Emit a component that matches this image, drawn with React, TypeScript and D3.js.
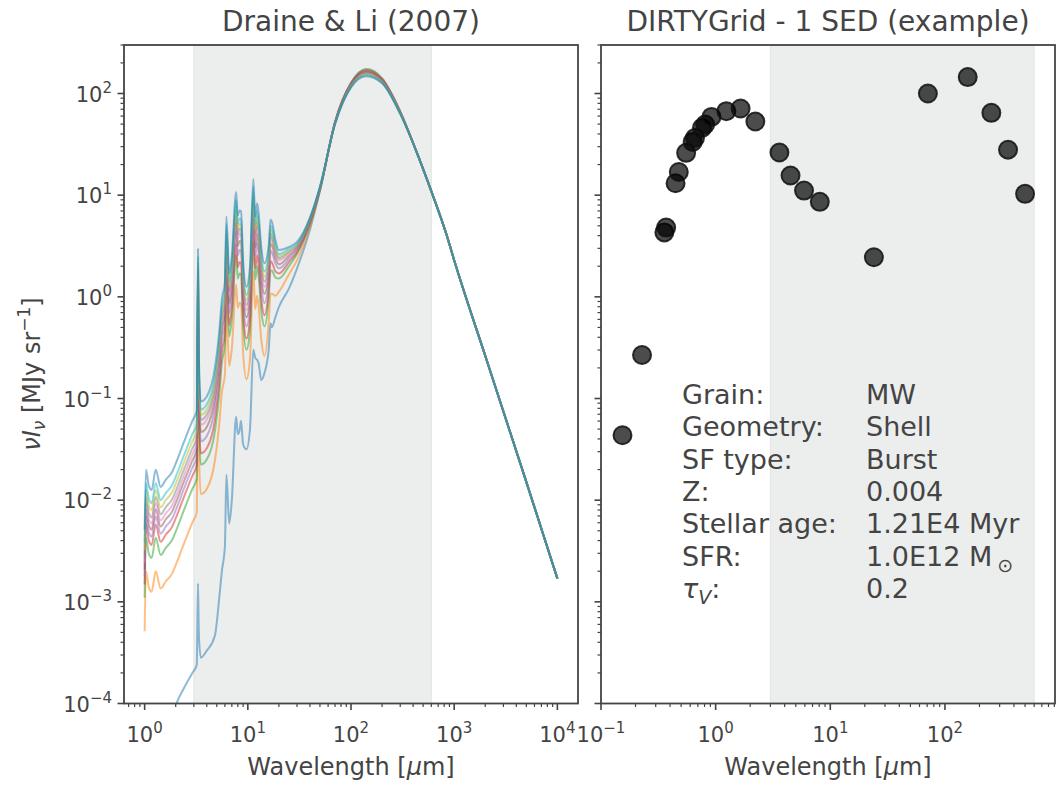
import React, { useEffect, useRef } from "react";
import * as d3 from "d3";

// Draine & Li (2007) model SEDs, log10(nu I_nu) on a shared wavelength grid (micron)
const wavelengthGrid = [
  1.0, 1.03, 1.1, 1.17, 1.28, 1.43, 1.6, 1.85, 2.0, 2.4, 2.9, 3.2,
  3.29, 3.35, 3.5, 4.0, 4.8, 5.3, 5.6, 6.0, 6.2, 6.6, 7.0, 7.7, 8.0, 8.3, 8.6, 9.0, 9.7, 10.5, 11.3, 11.8, 12.3, 12.7, 13.5, 14.5,
  16.0, 16.6, 17.1, 18.5, 20, 25, 30, 40, 50,
  70, 100, 140, 200, 300, 450, 600, 850, 1000, 2000, 5000, 10000,
];

const sedLog0 = [
  -4.9, -4.8, -4.75, -4.7, -4.6, -4.5, -4.35, -4.13, -4.02, -3.85, -3.7, -3.62,
  -2.82, -3.3, -3.55, -3.48, -3.33, -2.95, -2.7, -2.45, -1.75, -2.23, -2.0, -1.18, -1.35, -1.32, -1.22, -1.45, -1.5, -1.3, -0.52, -0.6, -0.62, -0.65, -0.82, -0.75,
  -0.5, -0.26, -0.3, -0.2, -0.1, 0.08, 0.28, 0.66, 1.04,
  1.72, 2.105, 2.24, 2.15, 1.825, 1.38, 1.04, 0.6, 0.36, -0.58, -1.82, -2.77,
];
const sedLog1 = [
  -3.29, -2.7, -2.86, -2.9, -2.7, -2.87, -2.8, -2.72, -2.64, -2.43, -2.22, -2.12,
  -0.44, -1.46, -1.94, -1.89, -1.61, -1.24, -0.94, -0.76, -0.12, -0.68, -0.51, 0.12, -0.11, -0.06, -0.07, -0.55, -0.81, -0.61, 0.25, -0.12, 0.01, -0.08, -0.42, -0.58,
  -0.23, 0.03, 0.03, 0.01, 0.05, 0.22, 0.36, 0.69, 1.05,
  1.72, 2.1, 2.235, 2.145, 1.82, 1.38, 1.04, 0.6, 0.36, -0.58, -1.82, -2.77,
];
const sedLog2 = [
  -2.96, -2.37, -2.53, -2.57, -2.37, -2.54, -2.47, -2.39, -2.31, -2.1, -1.89, -1.79,
  -0.15, -1.17, -1.65, -1.6, -1.32, -0.95, -0.65, -0.47, 0.17, -0.39, -0.22, 0.41, 0.18, 0.23, 0.22, -0.26, -0.52, -0.32, 0.54, 0.17, 0.3, 0.21, -0.13, -0.29,
  0.01, 0.26, 0.26, 0.19, 0.18, 0.3, 0.42, 0.72, 1.05,
  1.715, 2.1, 2.23, 2.14, 1.82, 1.38, 1.04, 0.6, 0.36, -0.58, -1.82, -2.77,
];
const sedLog3 = [
  -2.83, -2.24, -2.4, -2.44, -2.24, -2.41, -2.34, -2.26, -2.18, -1.97, -1.76, -1.66,
  -0.04, -1.06, -1.54, -1.49, -1.21, -0.84, -0.54, -0.36, 0.28, -0.28, -0.11, 0.52, 0.29, 0.34, 0.33, -0.15, -0.41, -0.21, 0.65, 0.28, 0.41, 0.32, -0.02, -0.18,
  0.1, 0.35, 0.34, 0.25, 0.23, 0.34, 0.44, 0.73, 1.06,
  1.715, 2.095, 2.22, 2.135, 1.815, 1.38, 1.04, 0.6, 0.36, -0.58, -1.82, -2.77,
];
const sedLog4 = [
  -2.75, -2.16, -2.32, -2.36, -2.16, -2.33, -2.26, -2.18, -2.1, -1.89, -1.68, -1.58,
  0.08, -0.94, -1.42, -1.37, -1.09, -0.72, -0.42, -0.24, 0.4, -0.16, 0.01, 0.64, 0.41, 0.46, 0.45, -0.03, -0.29, -0.09, 0.77, 0.4, 0.53, 0.44, 0.1, -0.06,
  0.2, 0.45, 0.44, 0.33, 0.28, 0.37, 0.46, 0.74, 1.06,
  1.71, 2.09, 2.215, 2.13, 1.815, 1.38, 1.04, 0.6, 0.36, -0.58, -1.82, -2.77,
];
const sedLog5 = [
  -2.68, -2.09, -2.25, -2.29, -2.09, -2.26, -2.19, -2.11, -2.03, -1.82, -1.61, -1.51,
  0.17, -0.85, -1.33, -1.28, -1.0, -0.63, -0.33, -0.15, 0.49, -0.07, 0.1, 0.73, 0.5, 0.55, 0.54, 0.06, -0.2, 0.0, 0.86, 0.49, 0.62, 0.53, 0.19, 0.03,
  0.27, 0.52, 0.51, 0.38, 0.32, 0.4, 0.48, 0.75, 1.07,
  1.71, 2.085, 2.21, 2.125, 1.81, 1.38, 1.04, 0.6, 0.36, -0.58, -1.82, -2.77,
];
const sedLog6 = [
  -2.62, -2.03, -2.19, -2.23, -2.03, -2.2, -2.13, -2.05, -1.97, -1.76, -1.55, -1.45,
  0.24, -0.78, -1.26, -1.21, -0.93, -0.56, -0.26, -0.08, 0.56, 0.0, 0.17, 0.8, 0.57, 0.62, 0.61, 0.13, -0.13, 0.07, 0.93, 0.56, 0.69, 0.6, 0.26, 0.1,
  0.33, 0.58, 0.56, 0.42, 0.36, 0.42, 0.49, 0.76, 1.07,
  1.705, 2.08, 2.2, 2.12, 1.81, 1.38, 1.04, 0.6, 0.36, -0.58, -1.82, -2.77,
];
const sedLog7 = [
  -2.56, -1.97, -2.13, -2.17, -1.97, -2.14, -2.07, -1.99, -1.91, -1.7, -1.49, -1.39,
  0.29, -0.73, -1.21, -1.16, -0.88, -0.51, -0.21, -0.03, 0.61, 0.05, 0.22, 0.85, 0.62, 0.67, 0.66, 0.18, -0.08, 0.12, 0.98, 0.61, 0.74, 0.65, 0.31, 0.15,
  0.37, 0.62, 0.6, 0.45, 0.38, 0.44, 0.5, 0.76, 1.07,
  1.705, 2.075, 2.195, 2.115, 1.805, 1.38, 1.04, 0.6, 0.36, -0.58, -1.82, -2.77,
];
const sedLog8 = [
  -2.49, -1.9, -2.06, -2.1, -1.9, -2.07, -2.0, -1.92, -1.84, -1.63, -1.42, -1.32,
  0.34, -0.68, -1.16, -1.11, -0.83, -0.46, -0.16, 0.02, 0.66, 0.1, 0.27, 0.9, 0.67, 0.72, 0.71, 0.23, -0.03, 0.17, 1.03, 0.66, 0.79, 0.7, 0.36, 0.2,
  0.41, 0.66, 0.64, 0.48, 0.4, 0.45, 0.51, 0.77, 1.08,
  1.7, 2.07, 2.19, 2.11, 1.805, 1.38, 1.04, 0.6, 0.36, -0.58, -1.82, -2.77,
];
const sedLog9 = [
  -2.42, -1.83, -1.99, -2.03, -1.83, -2.0, -1.93, -1.85, -1.77, -1.56, -1.35, -1.25,
  0.39, -0.63, -1.11, -1.06, -0.78, -0.41, -0.11, 0.07, 0.71, 0.15, 0.32, 0.95, 0.72, 0.77, 0.76, 0.28, 0.02, 0.22, 1.08, 0.71, 0.84, 0.75, 0.41, 0.25,
  0.45, 0.7, 0.68, 0.51, 0.42, 0.47, 0.52, 0.77, 1.08,
  1.7, 2.065, 2.18, 2.105, 1.8, 1.38, 1.04, 0.6, 0.36, -0.58, -1.82, -2.77,
];
const sedLog10 = [
  -2.29, -1.7, -1.86, -1.9, -1.7, -1.87, -1.8, -1.72, -1.64, -1.43, -1.22, -1.12,
  0.47, -0.55, -1.03, -0.98, -0.7, -0.33, -0.03, 0.15, 0.79, 0.23, 0.4, 1.03, 0.8, 0.85, 0.84, 0.36, 0.1, 0.3, 1.16, 0.79, 0.92, 0.83, 0.49, 0.33,
  0.52, 0.76, 0.74, 0.56, 0.46, 0.49, 0.54, 0.78, 1.08,
  1.7, 2.06, 2.17, 2.1, 1.8, 1.38, 1.04, 0.6, 0.36, -0.58, -1.82, -2.77,
];
const modelSeds = [sedLog0, sedLog1, sedLog2, sedLog3, sedLog4, sedLog5, sedLog6, sedLog7, sedLog8, sedLog9, sedLog10];
const modelColors = ["#1f77b4", "#ff7f0e", "#2ca02c", "#d62728", "#9467bd", "#8c564b", "#e377c2", "#7f7f7f", "#bcbd22", "#17becf", "#1f77b4"];

// DIRTYGrid single SED photometry
const dirtyWave = [0.154, 0.228, 0.357, 0.37, 0.447, 0.477, 0.553, 0.63, 0.66, 0.76, 0.81, 0.92, 1.24, 1.65, 2.22, 3.6, 4.5, 5.9, 8.1, 24, 71, 158, 254, 355, 500];
const dirtyFlux = [0.0435, 0.268, 4.3, 4.8, 13.1, 16.9, 26.1, 33.4, 36.6, 45.9, 49.6, 58.9, 67, 71.2, 53, 26.3, 15.6, 11.1, 8.6, 2.45, 100, 145, 64.5, 28, 10.3];

const paramNames = ["Grain:", "Geometry:", "SF type:", "Z:", "Stellar age:", "SFR:", "τ_V:"];
const paramValues = ["MW", "Shell", "Burst", "0.004", "1.21E4 Myr", "1.0E12 M_⊙", "0.2"];

const shadeRange = [3, 600];
const yTicks = [1e-4, 1e-3, 1e-2, 1e-1, 1e0, 1e1, 1e2];
const xTicksLeft = [1, 10, 100, 1000, 10000];
const xTicksRight = [0.1, 1, 10, 100];

const INK = "#444444";
const FONT = "'DejaVu Sans', sans-serif";
const top = 45;
const bottom = 703.5;

const minorTicks = (scale: d3.ScaleLogarithmic<number, number>) => {
  const [a, b] = scale.domain();
  const out: number[] = [];
  for (let e = Math.floor(Math.log10(a)); e <= Math.ceil(Math.log10(b)); e++) {
    for (let m = 2; m <= 9; m++) {
      const v = m * 10 ** e;
      if (v >= a && v <= b) out.push(v);
    }
  }
  return out;
};

const powerLabel = (sel: any, v: number) => {
  const exp = Math.round(Math.log10(v));
  sel.append("tspan").text("10");
  sel
    .append("tspan")
    .attr("dy", -9)
    .attr("font-size", 15)
    .text(exp < 0 ? `\u2212${-exp}` : `${exp}`);
};

const App = () => {
  const ref = useRef<SVGSVGElement>(null);

  useEffect(() => {
    const svg = d3.select(ref.current);
    svg.selectAll("*").remove();
    svg.append("rect").attr("width", 1058).attr("height", 786).attr("fill", "#fff");

    const y = d3.scaleLog().domain([1e-4, 300]).range([bottom, top]);
    const xLeft = d3.scaleLog().domain([10 ** -0.2, 10 ** 4.2]).range([124, 578]);
    const xRight = d3.scaleLog().domain([0.1, 10 ** 2.96]).range([601, 1055]);

    const defs = svg.append("defs");

    const panel = (
      x: d3.ScaleLogarithmic<number, number>,
      id: string,
      title: string,
      xMajor: number[],
      yLabels: boolean,
    ) => {
      const [x0, x1] = x.range();
      const g = svg.append("g");
      defs
        .append("clipPath")
        .attr("id", id)
        .append("rect")
        .attr("x", x0)
        .attr("y", top)
        .attr("width", x1 - x0)
        .attr("height", bottom - top);

      g.append("rect")
        .attr("x", x(shadeRange[0]))
        .attr("y", top)
        .attr("width", x(shadeRange[1]) - x(shadeRange[0]))
        .attr("height", bottom - top)
        .attr("fill", "#eceeed")
        .attr("stroke", "#e2e4e3")
        .attr("stroke-width", 1);

      const cx = (x0 + x1) / 2;
      svg
        .append("text")
        .attr("x", cx)
        .attr("y", 31)
        .attr("text-anchor", "middle")
        .attr("font-family", FONT)
        .attr("font-size", 28)
        .attr("fill", INK)
        .text(title);

      const xl = svg
        .append("text")
        .attr("x", cx)
        .attr("y", 775)
        .attr("text-anchor", "middle")
        .attr("font-family", FONT)
        .attr("font-size", 24)
        .attr("fill", INK);
      xl.append("tspan").text("Wavelength [");
      xl.append("tspan").attr("font-style", "italic").text("μ");
      xl.append("tspan").text("m]");

      const axes = svg.append("g").attr("stroke", INK);
      const plotLayer = g.append("g").attr("clip-path", `url(#${id})`);

      const drawFrame = () => {
        // ticks
        xMajor.forEach((v) => {
          axes.append("line").attr("x1", x(v)).attr("x2", x(v)).attr("y1", bottom).attr("y2", bottom + 6.5).attr("stroke-width", 1.6);
          const t = svg
            .append("text")
            .attr("x", x(v))
            .attr("y", 742)
            .attr("text-anchor", "middle")
            .attr("font-family", FONT)
            .attr("font-size", 21)
            .attr("fill", INK);
          powerLabel(t, v);
        });
        minorTicks(x).forEach((v) => {
          axes.append("line").attr("x1", x(v)).attr("x2", x(v)).attr("y1", bottom).attr("y2", bottom + 3.5).attr("stroke-width", 1.2);
        });
        yTicks.forEach((v) => {
          axes.append("line").attr("x1", x0).attr("x2", x0 - 6.5).attr("y1", y(v)).attr("y2", y(v)).attr("stroke-width", 1.6);
          if (yLabels) {
            const t = svg
              .append("text")
              .attr("x", x0 - 12)
              .attr("y", y(v) + 8)
              .attr("text-anchor", "end")
              .attr("font-family", FONT)
              .attr("font-size", 21)
              .attr("fill", INK);
            powerLabel(t, v);
          }
        });
        minorTicks(y).forEach((v) => {
          axes.append("line").attr("x1", x0).attr("x2", x0 - 3.5).attr("y1", y(v)).attr("y2", y(v)).attr("stroke-width", 1.2);
        });
        axes
          .append("rect")
          .attr("x", x0)
          .attr("y", top)
          .attr("width", x1 - x0)
          .attr("height", bottom - top)
          .attr("fill", "none")
          .attr("stroke-width", 1.8);
      };

      return { plotLayer, drawFrame };
    };

    // left: model SEDs
    const left = panel(xLeft, "clip-left", "Draine & Li (2007)", xTicksLeft, true);
    const line = d3
      .line<[number, number]>()
      .x((d) => xLeft(d[0]))
      .y((d) => y(d[1]))
      .curve(d3.curveMonotoneX);
    modelSeds.forEach((sed, i) => {
      const pts = wavelengthGrid.map((w, j) => [w, 10 ** sed[j]] as [number, number]);
      left.plotLayer
        .append("path")
        .attr("d", line(pts))
        .attr("fill", "none")
        .attr("stroke", modelColors[i])
        .attr("stroke-opacity", 0.5)
        .attr("stroke-width", 2)
        .attr("stroke-linejoin", "round");
    });
    left.drawFrame();

    // right: one DIRTYGrid SED
    const right = panel(xRight, "clip-right", "DIRTYGrid - 1 SED (example)", xTicksRight, false);
    right.plotLayer
      .selectAll("circle")
      .data(dirtyWave.map((w, i) => [w, dirtyFlux[i]]))
      .enter()
      .append("circle")
      .attr("cx", (d) => xRight(d[0]))
      .attr("cy", (d) => y(d[1]))
      .attr("r", 9)
      .attr("fill", "#000")
      .attr("fill-opacity", 0.7)
      .attr("stroke", "#111")
      .attr("stroke-opacity", 0.85)
      .attr("stroke-width", 2);

    const rich = (sel: any, s: string, math: boolean) => {
      const k = s.indexOf("_");
      if (k < 0) {
        sel.text(s);
        return;
      }
      sel.append("tspan").attr("font-style", math ? "italic" : null).text(s.slice(0, k));
      sel
        .append("tspan")
        .attr("dx", math ? 0 : 5)
        .attr("dy", 6)
        .attr("font-size", 19)
        .attr("font-style", math ? "italic" : null)
        .text(s[k + 1]);
      sel.append("tspan").attr("dy", -6).text(s.slice(k + 2));
    };
    paramNames.forEach((name, i) => {
      const by = 403.7 + i * 32.4;
      const a = svg
        .append("text")
        .attr("x", 682)
        .attr("y", by)
        .attr("font-family", FONT)
        .attr("font-size", 27)
        .attr("fill", INK);
      rich(a, name, true);
      const b = svg
        .append("text")
        .attr("x", 866)
        .attr("y", by)
        .attr("font-family", FONT)
        .attr("font-size", 27)
        .attr("fill", INK);
      rich(b, paramValues[i], false);
    });
    right.drawFrame();

    // shared y label
    const yl = svg
      .append("text")
      .attr("transform", "translate(40,374) rotate(-90)")
      .attr("text-anchor", "middle")
      .attr("font-family", FONT)
      .attr("font-size", 24)
      .attr("fill", INK);
    yl.append("tspan").attr("font-style", "italic").text("νI");
    yl.append("tspan").attr("font-style", "italic").attr("font-size", 17).attr("dy", 5).text("ν");
    yl.append("tspan").attr("dy", -5).text(" [MJy sr");
    yl.append("tspan").attr("font-size", 17).attr("dy", -10).text("\u22121");
    yl.append("tspan").attr("dy", 10).text("]");
  }, []);

  return <svg ref={ref} width={1058} height={786} style={{ position: "absolute", left: 0, top: 0 }} />;
};

export default App;
